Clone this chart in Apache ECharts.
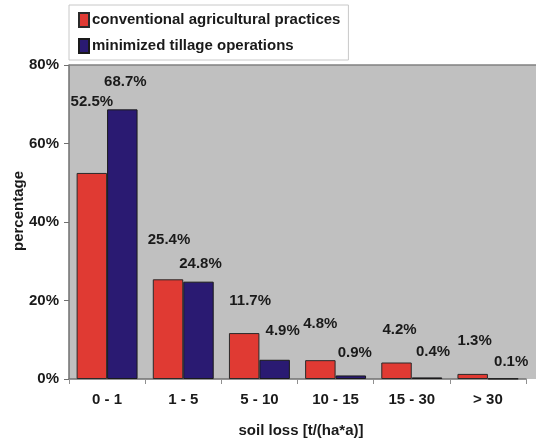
<!DOCTYPE html>
<html>
<head>
<meta charset="utf-8">
<script src="https://cdn.jsdelivr.net/npm/echarts@6/dist/echarts.min.js"></script>
<style>
html,body{margin:0;padding:0;background:#fff;}
#c{width:536px;height:446px;}
</style>
</head>
<body>
<div id="c"></div>
<script>
var categories = ['0 - 1', '1 - 5', '5 - 10', '10 - 15', '15 - 30', '> 30'];
var conventional = [52.5, 25.4, 11.7, 4.8, 4.2, 1.3];
var minimized = [68.7, 24.8, 4.9, 0.9, 0.4, 0.1];
var yTicks = [0, 20, 40, 60, 80];
var seriesNames = ['conventional agricultural practices', 'minimized tillage operations'];

// label placement tweaks (style only)
var convLabelOffsets = [[0,-63],[1,-31],[6,-24],[0,-28],[3,-24],[2,-25]];
var minLabelOffsets = [[3,-19],[2,-9],[8,-20],[4,-14],[6,-17],[8,-8]];

var FONT = '"Liberation Sans Narrow", "Arial Narrow", "Liberation Sans", Arial, sans-serif';

function items(vals, offs) {
  return vals.map(function (v, i) {
    return { value: v, label: { offset: offs[i] } };
  });
}

var chart = echarts.init(document.getElementById('c'), null, {renderer: 'canvas'});
var labelStyle = {
  show: true, position: 'top', distance: 0,
  fontFamily: FONT, fontWeight: 'bold', fontSize: 15, lineHeight: 17, color: '#1a1a1a',
  formatter: function (p) { return p.value.toFixed(1) + '%'; }
};
chart.setOption({
  animation: false,
  backgroundColor: '#ffffff',
  graphic: [
    { type: 'rect', z: -1, silent: true, shape: { x: 69, y: 65, width: 480, height: 314 }, style: { fill: '#c0c0c0' } },
    { type: 'line', z: 1, silent: true, shape: { x1: 69, y1: 65, x2: 549, y2: 65 }, style: { stroke: '#808080', lineWidth: 1.5 } }
  ],
  legend: {
    orient: 'vertical', left: 69, top: 5,
    padding: [7, 8, 6, 9], itemGap: 10,
    itemWidth: 10, itemHeight: 14, icon: 'rect',
    backgroundColor: '#ffffff', borderColor: '#c8c8c8', borderWidth: 1,
    textStyle: { fontFamily: FONT, fontWeight: 'bold', fontSize: 15, lineHeight: 15, color: '#1a1a1a', padding: [0,0,0,-2] },
    data: seriesNames
  },
  grid: { left: 69, top: 65, width: 457, height: 314, outerBoundsMode: 'none', containLabel: false },
  xAxis: {
    type: 'category', data: categories,
    name: 'soil loss [t/(ha*a)]', nameLocation: 'middle', nameGap: 44, nameMoveOverlap: false,
    nameTextStyle: { fontFamily: FONT, fontWeight: 'bold', fontSize: 15, color: '#1a1a1a', padding: [0,0,0,7] },
    axisLine: { lineStyle: { color: '#707070', width: 1.5 } },
    axisTick: { show: true, length: 5, lineStyle: { color: '#909090' } },
    axisLabel: { margin: 13, fontFamily: FONT, fontWeight: 'bold', fontSize: 15, color: '#1a1a1a' }
  },
  yAxis: {
    type: 'value', min: yTicks[0], max: yTicks[yTicks.length - 1], interval: 20,
    name: 'percentage', nameLocation: 'middle', nameGap: 43, nameMoveOverlap: false,
    nameTextStyle: { fontFamily: '"Liberation Sans", Arial, sans-serif', fontWeight: 'bold', fontSize: 15, color: '#1a1a1a', padding: [0, 0, 0, 22] },
    axisLine: { show: true, lineStyle: { color: '#707070', width: 1.5 } },
    axisTick: { show: true, length: 5, lineStyle: { color: '#707070' } },
    splitLine: { show: false },
    axisLabel: { margin: 10, fontFamily: FONT, fontWeight: 'bold', fontSize: 15, color: '#1a1a1a',
      formatter: function (v) { return v + '%'; } }
  },
  series: [
    {
      name: seriesNames[0], type: 'bar', barGap: '0%', barCategoryGap: '20%',
      itemStyle: { color: '#e03a33', borderColor: '#2a2a2a', borderWidth: 1 },
      label: labelStyle,
      data: items(conventional, convLabelOffsets)
    },
    {
      name: seriesNames[1], type: 'bar', barGap: '0%', barCategoryGap: '20%',
      itemStyle: { color: '#2a1a72', borderColor: '#1a1a1a', borderWidth: 1 },
      label: labelStyle,
      data: items(minimized, minLabelOffsets)
    }
  ]
});
</script>
</body>
</html>
